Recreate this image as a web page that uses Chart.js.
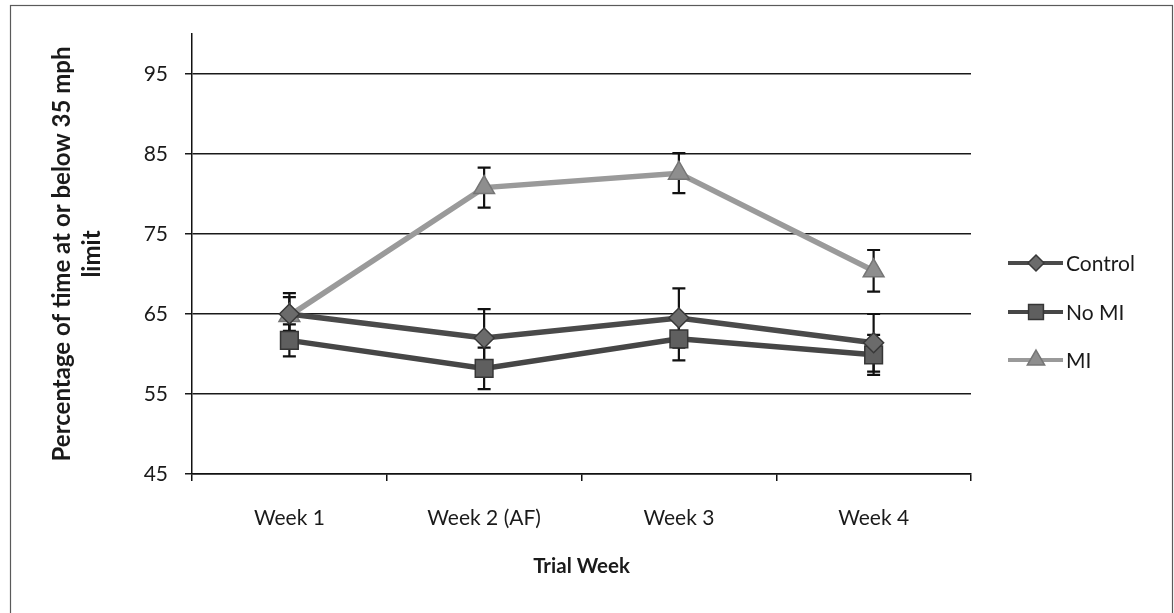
<!DOCTYPE html>
<html>
<head>
<meta charset="utf-8">
<script src="https://cdn.jsdelivr.net/npm/chart.js@4.4.0/dist/chart.umd.min.js"></script>
<style>
  html, body { margin: 0; padding: 0; background: #ffffff; }
  #wrap { position: relative; width: 1174px; height: 613px; overflow: hidden; }
  canvas { display: block; }
</style>
</head>
<body>
<div id="wrap"><canvas id="chart" width="1174" height="613"></canvas></div>
<script>
// Trial weeks on the category axis
const weeks = ['Week 1', 'Week 2 (AF)', 'Week 3', 'Week 4'];

// Mean percentage of time at or below the 35 mph limit
const controlValues = [65.0, 62.0, 64.5, 61.4];
const noMiValues    = [61.7, 58.2, 61.9, 59.9];
const miValues      = [64.8, 80.8, 82.6, 70.4];

// Error bar half-widths
const controlErrors = [2.1, 3.6, 3.7, 3.6];
const noMiErrors    = [2.0, 2.6, 2.7, 2.5];
const miErrors      = [2.8, 2.5, 2.5, 2.6];

// Value axis ticks
const yTicks = [45, 55, 65, 75, 85, 95];

const FONT = 'Lato, "Open Sans", sans-serif';
const TEXT = '#1a1a1a';

const seriesStyle = [
  { line: '#4a4a4a', fill: '#6b6b6b', edge: '#383838', shape: 'rectRot', r: 10 },
  { line: '#464646', fill: '#5f5f5f', edge: '#363636', shape: 'rect', r: 12.5 },
  { line: '#9a9a9a', fill: '#8e8e8e', edge: '#767676', shape: 'triangle', r: 12 }
];

function makeSet(label, data, errors, s) {
  return {
    label, data, errors,
    borderColor: s.line, borderWidth: 5.5,
    pointStyle: s.shape, pointRadius: s.r, pointHoverRadius: s.r,
    pointBackgroundColor: s.fill, pointBorderColor: s.edge, pointBorderWidth: 1.5,
    tension: 0, fill: false
  };
}

// Vertical error bars with caps, drawn beneath the markers
const errorBars = {
  id: 'errorBars',
  beforeDatasetsDraw(chart) {
    const ctx = chart.ctx, y = chart.scales.y;
    ctx.save();
    ctx.strokeStyle = '#111';
    ctx.lineWidth = 2.2;
    chart.data.datasets.forEach((ds, i) => {
      const meta = chart.getDatasetMeta(i);
      meta.data.forEach((pt, j) => {
        const e = ds.errors[j];
        const top = y.getPixelForValue(ds.data[j] + e);
        const bot = y.getPixelForValue(ds.data[j] - e);
        const x = pt.x;
        ctx.beginPath();
        ctx.moveTo(x, top); ctx.lineTo(x, bot);
        ctx.moveTo(x - 6.5, top); ctx.lineTo(x + 6.5, top);
        ctx.moveTo(x - 6.5, bot); ctx.lineTo(x + 6.5, bot);
        ctx.stroke();
      });
    });
    ctx.restore();
  }
};

// Legend on the right: line sample with marker, then the series name
const sideLegend = {
  id: 'sideLegend',
  afterDraw(chart) {
    const ctx = chart.ctx;
    const rows = [263, 312, 360];
    ctx.save();
    chart.data.datasets.forEach((ds, i) => {
      const yy = rows[i];
      ctx.strokeStyle = ds.borderColor;
      ctx.lineWidth = 4;
      ctx.beginPath();
      ctx.moveTo(1008, yy); ctx.lineTo(1063, yy);
      ctx.stroke();
      ctx.fillStyle = ds.pointBackgroundColor;
      ctx.strokeStyle = ds.pointBorderColor;
      ctx.lineWidth = 1.5;
      Chart.helpers.drawPoint(ctx, {
        pointStyle: ds.pointStyle, rotation: 0, borderWidth: 1.5, radius: ds.pointRadius - 2
      }, 1036, yy);
      ctx.fillStyle = TEXT;
      ctx.font = '21px ' + FONT;
      ctx.textBaseline = 'middle';
      ctx.textAlign = 'left';
      ctx.fillText(ds.label, 1066, yy + 1);
    });
    ctx.restore();
  }
};

// Thin frame around the whole chart
const frame = {
  id: 'frame',
  afterDraw(chart) {
    const ctx = chart.ctx;
    ctx.save();
    ctx.strokeStyle = '#5a5a5a';
    ctx.lineWidth = 1.2;
    ctx.strokeRect(10.5, 5.5, 1162, 640);
    ctx.restore();
  }
};

new Chart(document.getElementById('chart'), {
  type: 'line',
  data: {
    labels: weeks,
    datasets: [
      makeSet('Control', controlValues, controlErrors, seriesStyle[0]),
      makeSet('No MI', noMiValues, noMiErrors, seriesStyle[1]),
      makeSet('MI', miValues, miErrors, seriesStyle[2])
    ]
  },
  options: {
    responsive: false,
    animation: false,
    devicePixelRatio: 1,
    layout: { padding: { left: 0, right: 203, top: 34, bottom: 0 } },
    plugins: { legend: { display: false }, tooltip: { enabled: false } },
    scales: {
      x: {
        offset: true,
        afterFit(scale) { scale.height = 139; },
        grid: { drawOnChartArea: false, drawTicks: true, tickLength: 7, color: '#111', lineWidth: 1.5, offset: true },
        border: { display: true, color: '#111', width: 1.5 },
        ticks: { color: TEXT, font: { family: FONT, size: 21 }, padding: 25, maxRotation: 0 },
        title: {
          display: true, text: 'Trial Week', color: TEXT,
          font: { family: FONT, size: 20.5, weight: 'bold', lineHeight: 1.2 },
          padding: { top: 0, bottom: 34 }
        }
      },
      y: {
        min: 45, max: 100,
        afterFit(scale) { scale.width = 192; },
        afterBuildTicks(scale) { scale.ticks = yTicks.map(v => ({ value: v })); },
        grid: { color: '#1a1a1a', lineWidth: 1.5, tickLength: 7, drawTicks: true },
        border: { display: true, color: '#111', width: 1.5 },
        ticks: { color: TEXT, font: { family: FONT, size: 21 }, padding: 17 },
        title: {
          display: true, text: ['Percentage of time at or below 35 mph', 'limit'], color: TEXT,
          font: { family: FONT, size: 24, weight: 'bold', lineHeight: 1.25 },
          padding: { top: 47, bottom: 0 }
        }
      }
    }
  },
  plugins: [errorBars, sideLegend, frame]
});
</script>
</body>
</html>
